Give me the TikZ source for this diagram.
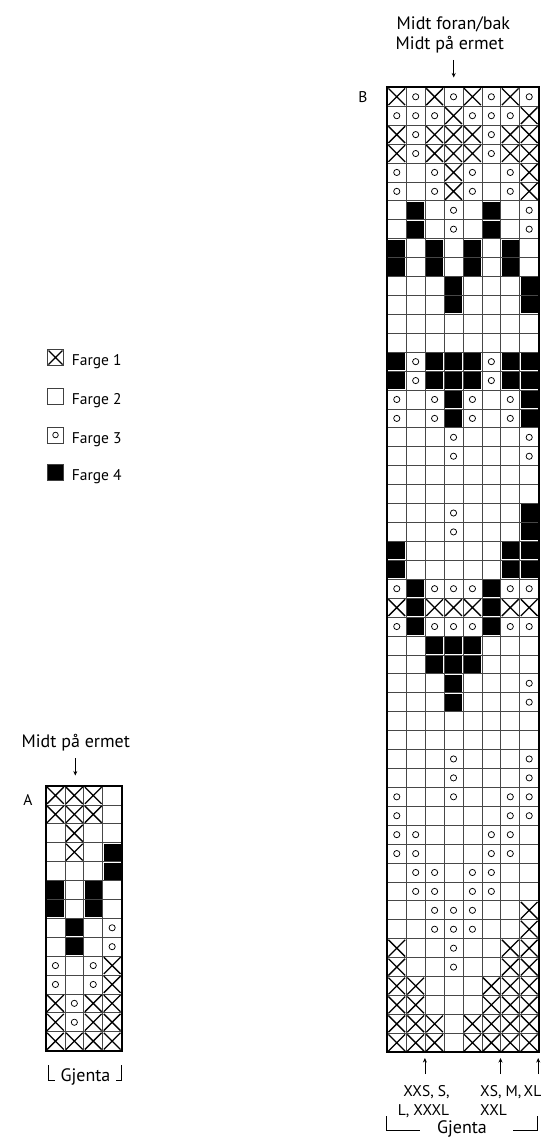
\documentclass[tikz,border=0pt]{standalone}
\usepackage{fontspec}
\setmainfont{PT Sans}
\usetikzlibrary{arrows.meta}
\newcommand\knitchart[4]{%
  \foreach [count=\ri] \rowlist in {#4} {
    \foreach [count=\ci] \sym in \rowlist {
      \pgfmathsetmacro\xa{#1+(\ci-1)*#3}
      \pgfmathsetmacro\ya{#2+(\ri-1)*#3}
      \if B\sym \fill[black] (\xa+0.9,\ya+0.9) rectangle (\xa+#3-0.9,\ya+#3-0.9);\fi
      \if X\sym \draw[xmark] (\xa+1.1,\ya+1.1) -- (\xa+#3-1.1,\ya+#3-1.1) (\xa+#3-1.1,\ya+1.1) -- (\xa+1.1,\ya+#3-1.1);\fi
      \if o\sym \draw[omark] (\xa+#3/2,\ya+#3/2) circle[radius=3.1];\fi
    }
  }
}
\begin{document}
\begin{tikzpicture}[x=1pt,y=-1pt,
  grid/.style={line width=0.8pt, draw=black!72},
  frame/.style={line width=1.9pt, draw=black},
  xmark/.style={line width=1.3pt, draw=black},
  omark/.style={line width=0.75pt, draw=black},
  lbl/.style={font=\fontsize{15.5}{18}\selectfont, inner sep=0pt},
  hlbl/.style={font=\fontsize{18}{21}\selectfont, inner sep=0pt},
  slbl/.style={font=\fontsize{15.5}{18}\selectfont, inner sep=0pt},
  arr/.style={-{Stealth[length=4.5pt,width=4pt]}, line width=0.8pt},
  brk/.style={line width=0.8pt},
  legbox/.style={draw=black!75, line width=0.9pt}]
\useasboundingbox (0,0) rectangle (547,1137);

% ---------- Legend ----------
\draw[legbox] (47.5,349.5) rectangle (63.5,365.5);
\draw[xmark] (48.5,350.5) -- (62.5,364.5) (62.5,350.5) -- (48.5,364.5);
\node[lbl, anchor=base west] (f1) at (71.7,365.5) {Farge 1};
\draw[legbox] (47.5,388.5) rectangle (63.5,404.5);
\node[lbl, anchor=base west] (f2) at (71.7,404.5) {Farge 2};
\draw[legbox] (47.5,427) rectangle (63.5,443);
\draw[omark] (55.5,435) circle[radius=2.8];
\node[lbl, anchor=base west] (f3) at (71.7,443) {Farge 3};
\draw[legbox, fill=black] (47.5,464.5) rectangle (63.5,480.5);
\node[lbl, anchor=base west] (f4) at (71.7,480.5) {Farge 4};

% ---------- Chart B ----------
\foreach \i in {1,...,7} \draw[grid] ({387.3+\i*18.92},87.3) -- ({387.3+\i*18.92},1052.2);
\foreach \j in {1,...,50} \draw[grid] (387.3,{87.3+\j*18.92}) -- (538.66,{87.3+\j*18.92});
\knitchart{387.3}{87.3}{18.92}{%
{X,o,X,o,X,o,X,o},
{o,o,o,X,o,o,o,X},
{X,o,X,X,X,o,X,X},
{X,o,X,X,X,o,X,X},
{o,-,o,X,o,-,o,X},
{o,-,o,X,o,-,o,X},
{-,B,-,o,-,B,-,o},
{-,B,-,o,-,B,-,o},
{B,-,B,-,B,-,B,-},
{B,-,B,-,B,-,B,-},
{-,-,-,B,-,-,-,B},
{-,-,-,B,-,-,-,B},
{-,-,-,-,-,-,-,-},
{-,-,-,-,-,-,-,-},
{B,o,B,B,B,o,B,B},
{B,o,B,B,B,o,B,B},
{o,-,o,B,o,-,o,B},
{o,-,o,B,o,-,o,B},
{-,-,-,o,-,-,-,o},
{-,-,-,o,-,-,-,o},
{-,-,-,-,-,-,-,-},
{-,-,-,-,-,-,-,-},
{-,-,-,o,-,-,-,B},
{-,-,-,o,-,-,-,B},
{B,-,-,-,-,-,B,B},
{B,-,-,-,-,-,B,B},
{o,B,o,o,o,B,o,o},
{X,B,X,X,X,B,X,X},
{o,B,o,o,o,B,o,o},
{-,-,B,B,B,-,-,-},
{-,-,B,B,B,-,-,-},
{-,-,-,B,-,-,-,o},
{-,-,-,B,-,-,-,o},
{-,-,-,-,-,-,-,-},
{-,-,-,-,-,-,-,-},
{-,-,-,o,-,-,-,o},
{-,-,-,o,-,-,-,o},
{o,-,-,o,-,-,o,o},
{o,-,-,-,-,-,o,o},
{o,o,-,-,-,o,o,-},
{o,o,-,-,-,o,o,-},
{-,o,o,-,o,o,-,-},
{-,o,o,-,o,o,-,-},
{-,-,o,o,o,-,-,X},
{-,-,o,o,o,-,-,X},
{X,-,-,o,-,-,X,X},
{X,-,-,o,-,-,X,X},
{X,X,-,-,-,X,X,X},
{X,X,-,-,-,X,X,X},
{X,X,X,-,X,X,X,X},
{X,X,X,-,X,X,X,X}}
\draw[frame] (387.3,87.3) rectangle (538.66,1052.2);

\node[lbl, anchor=center] (labB) at (363,97) {B};
\node[hlbl, anchor=base west] (tb1) at (396.5,29.3) {Midt foran/bak};
\node[hlbl, anchor=base west] (tb2) at (395.5,49.3) {Midt på ermet};
\coordinate (bt1) at (453.7,60);
\coordinate (bt2) at (453.7,77.5);
\draw[arr] (bt1) -- (bt2);

% bottom labels B
\coordinate (ba1s) at (424.9,1074); \coordinate (ba1e) at (424.9,1058);
\coordinate (ba2s) at (500.5,1074); \coordinate (ba2e) at (500.5,1058);
\coordinate (ba3s) at (538.2,1074); \coordinate (ba3e) at (538.2,1058);
\draw[arr] (ba1s) -- (ba1e);
\draw[arr] (ba2s) -- (ba2e);
\draw[arr] (ba3s) -- (ba3e);
\node[slbl, anchor=base] (s1a) at (426.5,1096.7) {XXS, S,};
\node[slbl, anchor=base] (s1b) at (423.5,1115.7) {L, XXXL};
\node[slbl, anchor=base west] (s2a) at (480,1096.7) {XS, M,};
\node[slbl, anchor=base west] (s2b) at (480,1115.7) {XXL};
\node[slbl, anchor=base west] (s3a) at (523.5,1096.7) {XL};
\node[hlbl, anchor=base] (gjB) at (462,1133.3) {Gjenta};
\coordinate (gbl1) at (386.8,1116); \coordinate (gbl2) at (420,1130);
\coordinate (gbr1) at (537,1116); \coordinate (gbr2) at (512.5,1130);
\draw[brk] (gbl1) |- (gbl2);
\draw[brk] (gbr1) |- (gbr2);

% ---------- Chart A ----------
\foreach \i in {1,...,3} \draw[grid] ({46+\i*18.9},786) -- ({46+\i*18.9},1050.6);
\foreach \j in {1,...,13} \draw[grid] (46,{786+\j*18.9}) -- (121.6,{786+\j*18.9});
\knitchart{46}{786}{18.9}{%
{X,X,X,-},
{X,X,X,-},
{-,X,-,-},
{-,X,-,B},
{-,-,-,B},
{B,-,B,-},
{B,-,B,-},
{-,B,-,o},
{-,B,-,o},
{o,-,o,X},
{o,-,o,X},
{X,o,X,X},
{X,o,X,X},
{X,X,X,X}}
\draw[frame] (46,786) rectangle (121.6,1050.6);

\node[lbl, anchor=center] (labA) at (28,800) {A};
\node[hlbl, anchor=base] (ta1) at (75.8,747.3) {Midt på ermet};
\coordinate (at1) at (75.3,758);
\coordinate (at2) at (75.3,775.5);
\draw[arr] (at1) -- (at2);
\node[hlbl, anchor=base] (gjA) at (85.5,1081.7) {Gjenta};
\coordinate (gal1) at (48.3,1065); \coordinate (gal2) at (54.5,1080);
\coordinate (gar1) at (121,1065); \coordinate (gar2) at (115.5,1080);
\draw[brk] (gal1) |- (gal2);
\draw[brk] (gar1) |- (gar2);
\end{tikzpicture}
\end{document}
